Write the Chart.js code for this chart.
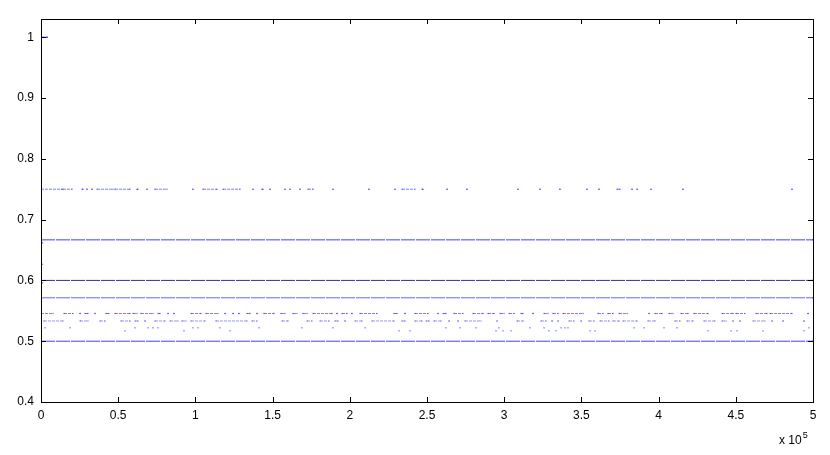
<!DOCTYPE html>
<html>
<head>
<meta charset="utf-8">
<script src="https://cdn.jsdelivr.net/npm/chart.js@4.4.1/dist/chart.umd.min.js"></script>
<style>
  html, body { margin: 0; padding: 0; background: #fff; }
  #chart { display: block; }
</style>
</head>
<body>
<canvas id="chart" width="830" height="455"></canvas>
<script>
// axis ticks
const xTicks = [0, 50000, 100000, 150000, 200000, 250000, 300000, 350000, 400000, 450000, 500000];
const xTickLabels = ['0', '0.5', '1', '1.5', '2', '2.5', '3', '3.5', '4', '4.5', '5'];
const yTicks = [0.4, 0.5, 0.6, 0.7, 0.8, 0.9, 1];
const yTickLabels = ['0.4', '0.5', '0.6', '0.7', '0.8', '0.9', '1'];

// levels that are hit almost everywhere (drawn as full rows)
const denseLevels = [0.5, 0.5714, 0.6, 0.6667];
const denseColors = ['rgba(0,0,255,0.75)', 'rgba(0,0,255,0.6)', 'rgba(10,10,120,0.85)', 'rgba(0,0,255,0.75)'];
const denseRange = [0, 500000];

// level 1: only at the very start
const levelOne = 1;
const levelOneRuns = [[0, 4000]];

// level 0.75: runs of hits [from, to]
const level75 = 0.75;
const level75Runs = [[0, 13600], [14200, 20100], [26600, 27200], [29800, 29800], [33000, 33000], [36300, 46600],
  [47900, 57600], [62200, 62800], [68700, 68700], [73800, 81600], [98400, 98400], [104900, 114000],
  [117900, 128900], [137300, 137300], [143100, 143800], [148300, 148300], [158000, 158000], [161300, 161300],
  [167700, 167700], [172900, 176200], [189100, 189100], [212400, 212400], [229300, 229300], [233800, 242200],
  [246800, 247400], [263000, 263000], [275900, 275900], [308900, 308900], [323200, 323200], [336100, 336100],
  [353600, 353600], [361400, 361400], [373100, 375000], [382800, 382800], [386000, 386000], [395100, 395100],
  [415800, 415800], [486400, 486400]];

// level 6/11
const level611 = 0.5455;
const level611Runs = [[0, 7800], [14900, 20700], [25300, 25300], [28500, 30400], [35000, 35000], [42100, 44000],
  [47900, 57600], [59600, 62200], [64800, 72500], [75800, 77100], [82300, 82300], [86100, 86100],
  [97200, 103600], [106900, 114600], [119200, 119200], [124400, 124400], [128200, 128200], [133400, 135400],
  [139900, 139900], [144400, 150900], [155400, 158000], [163200, 165800], [169700, 172300], [176200, 188500],
  [191700, 191700], [195000, 198200], [201400, 201400], [206600, 217600], [228600, 230600], [235800, 235800],
  [242200, 250700], [257100, 257100], [260400, 262300], [267500, 273300], [279800, 286300], [289500, 293400],
  [297300, 299900], [303200, 306400], [310900, 312200], [318700, 318700], [325800, 328400], [331600, 334900],
  [338100, 351100], [360800, 364000], [367200, 370500], [374400, 379600], [393800, 393800], [397700, 402200],
  [406800, 409300], [414500, 419100], [422900, 432000], [441100, 448200], [450100, 455900], [463100, 470200],
  [472200, 486400], [496800, 496800]];

// level 8/15
const level815 = 0.5333;
const level815Runs = [[1900, 14200], [25300, 30400], [38200, 41500], [51800, 57600], [60900, 62800], [67400, 67400],
  [73800, 80300], [83600, 88700], [91300, 93900], [97200, 106200], [113300, 133400], [136700, 139900],
  [156100, 160000], [172300, 175500], [180700, 186500], [190400, 192400], [196900, 196900], [203400, 207900],
  [214400, 228600], [233800, 235800], [242200, 246800], [249400, 251300], [254500, 259100], [264300, 264300],
  [270100, 270100], [274600, 285000], [295400, 295400], [308300, 312200], [323900, 327100], [331000, 331000],
  [334900, 334900], [342000, 345200], [349800, 349800], [354900, 358200], [362100, 367900], [370500, 374400],
  [377000, 386000], [393100, 397700], [410600, 413900], [418400, 422300], [429400, 436500], [441100, 443700],
  [448200, 448200], [452700, 452700], [461200, 468900], [473500, 473500], [480600, 480600], [494200, 494200]];

// lower sparse levels: single hits
const level522 = 0.522;
const level522Hits = [2600, 18800, 60900, 69300, 72500, 75800, 98400, 101700, 115900, 141200, 169000, 189100,
  209900, 262300, 271400, 281700, 296600, 316700, 325800, 336800, 339400, 341300, 384100, 390600, 403500,
  411900, 497400];
const level517 = 0.517;
const level517Hits = [54400, 92600, 122400, 231900, 239000, 294700, 299200, 304400, 329000, 333600, 355600,
  358800, 432000, 446900, 450800, 467600, 494200];

// a few stray hits near the start
const strayX = [1000, 1000, 1000];
const strayY = [0.6617, 0.6266, 0.5959];

const FONT = '"Liberation Sans", Arial, Helvetica, sans-serif';

function runsToPoints(runs, y) {
  const pts = [];
  runs.forEach(([a, b]) => {
    pts.push({ x: a, y: y });
    pts.push({ x: b, y: y });
    pts.push({ x: b, y: null });
  });
  return pts;
}

function lineSet(data, color, dash, showLine) {
  return {
    data: data,
    showLine: showLine !== false,
    borderColor: color,
    borderWidth: 1,
    borderDash: dash || [],
    pointRadius: 0.8,
    pointBorderWidth: 0,
    pointBackgroundColor: color,
    spanGaps: false
  };
}

const sparseBlue = 'rgba(0,0,255,0.5)';
const datasets = [];
denseLevels.forEach((lv, i) => {
  datasets.push(lineSet(runsToPoints([denseRange], lv), denseColors[i], [14, 1]));
});
datasets.push(lineSet(runsToPoints(levelOneRuns, levelOne), 'rgba(0,0,255,0.9)'));
datasets.push(lineSet(runsToPoints(level75Runs, level75), sparseBlue, [3, 1]));
datasets.push(lineSet(runsToPoints(level611Runs, level611), sparseBlue, [3, 1]));
datasets.push(lineSet(runsToPoints(level815Runs, level815), 'rgba(0,0,255,0.42)', [3, 1]));
datasets.push(lineSet(level522Hits.map(x => ({ x: x, y: level522 })), sparseBlue, [], false));
datasets.push(lineSet(level517Hits.map(x => ({ x: x, y: level517 })), sparseBlue, [], false));
datasets.push(lineSet(strayX.map((x, i) => ({ x: x, y: strayY[i] })), sparseBlue, [], false));

// box, inward ticks, and the exponent label
const matlabFrame = {
  id: 'matlabFrame',
  afterDraw(chart) {
    const ctx = chart.ctx;
    const a = chart.chartArea;
    const xs = chart.scales.x, ys = chart.scales.y;
    const len = 5;
    ctx.save();
    ctx.strokeStyle = '#000';
    ctx.lineWidth = 1;
    ctx.beginPath();
    xTicks.forEach(v => {
      const px = Math.round(xs.getPixelForValue(v)) + 0.5;
      ctx.moveTo(px, a.bottom); ctx.lineTo(px, a.bottom - len);
      ctx.moveTo(px, a.top); ctx.lineTo(px, a.top + len);
    });
    yTicks.forEach(v => {
      const py = Math.round(ys.getPixelForValue(v)) + 0.5;
      ctx.moveTo(a.left, py); ctx.lineTo(a.left + len, py);
      ctx.moveTo(a.right, py); ctx.lineTo(a.right - len, py);
    });
    ctx.stroke();
    ctx.strokeRect(Math.round(a.left) + 0.5, Math.round(a.top) + 0.5,
      Math.round(a.right - a.left), Math.round(a.bottom - a.top));

    ctx.fillStyle = '#000';
    ctx.font = '12px ' + FONT;
    ctx.textBaseline = 'alphabetic';
    ctx.textAlign = 'left';
    const tx = a.right - 34;
    ctx.fillText('x 10', tx, a.bottom + 42);
    const w = ctx.measureText('x 10').width;
    ctx.font = '9px ' + FONT;
    ctx.fillText('5', tx + w + 1, a.bottom + 36);
    ctx.restore();
  }
};

new Chart(document.getElementById('chart'), {
  type: 'scatter',
  data: { datasets: datasets },
  options: {
    responsive: false,
    animation: false,
    layout: { padding: { left: 0, top: 19, right: 17, bottom: 0 } },
    plugins: {
      legend: { display: false },
      tooltip: { enabled: false }
    },
    scales: {
      x: {
        type: 'linear',
        min: 0,
        max: 500000,
        afterBuildTicks: s => { s.ticks = xTicks.map(v => ({ value: v })); },
        afterFit: s => { s.height = 53; },
        ticks: {
          callback: (v, i) => xTickLabels[i],
          color: '#000',
          font: { family: FONT, size: 12 },
          padding: 6,
          maxRotation: 0,
          autoSkip: false
        },
        grid: { display: false, drawTicks: false },
        border: { display: false }
      },
      y: {
        min: 0.4,
        max: 1.03,
        afterBuildTicks: s => { s.ticks = yTicks.map(v => ({ value: v })); },
        afterFit: s => { s.width = 41; },
        ticks: {
          callback: (v, i) => yTickLabels[i],
          color: '#000',
          font: { family: FONT, size: 12 },
          padding: 7,
          autoSkip: false
        },
        grid: { display: false, drawTicks: false },
        border: { display: false }
      }
    }
  },
  plugins: [matlabFrame]
});
</script>
</body>
</html>
